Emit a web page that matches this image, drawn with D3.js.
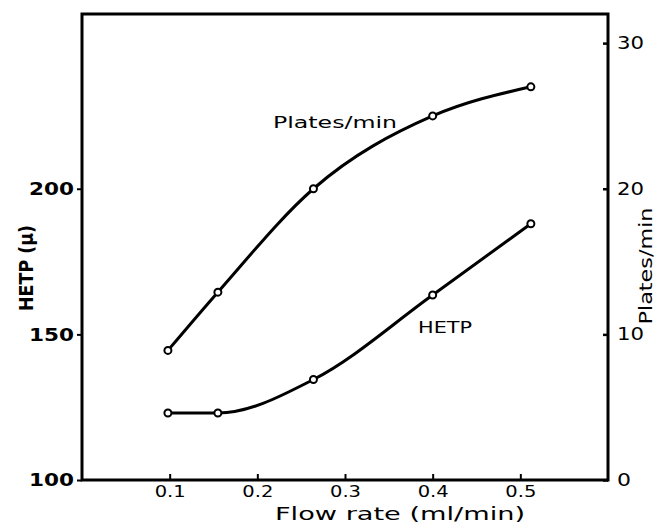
<!DOCTYPE html>
<html>
<head>
<meta charset="utf-8">
<script src="https://cdn.jsdelivr.net/npm/d3@7"></script>
<style>
  body { margin: 0; background: #fff; }
  svg { display: block; font-family: "DejaVu Sans", sans-serif; }
</style>
</head>
<body>
<svg id="chart"></svg>
<script>
// flow rate (ml/min) for both series
const flow_rate = [0.098, 0.155, 0.264, 0.400, 0.512];
// HETP in microns, left axis
const hetp = [123, 123, 134.5, 163.5, 188];
// plates per minute, right axis
const plates = [8.9, 12.9, 20.0, 25.0, 27.0];

const x_ticks = [0.1, 0.2, 0.3, 0.4, 0.5];
const x_tick_labels = ["0.1", "0.2", "0.3", "0.4", "0.5"];
const hetp_ticks = [100, 150, 200];
const plates_ticks = [0, 10, 20, 30];

function draw_chart() {
    let width = 658;
    let height = 523;

    const svg = d3.select("#chart")
        .attr("width", width)
        .attr("height", height);

    let x = d3.scaleLinear().domain([0, 0.6]).range([82, 608]);
    let y_left = d3.scaleLinear().domain([100, 260]).range([480, 14]);
    let y_right = d3.scaleLinear().domain([0, 32]).range([480, 14]);

    // frame
    svg.append("rect")
        .attr("x", x(0))
        .attr("y", y_left(260))
        .attr("width", x(0.6) - x(0))
        .attr("height", y_left(100) - y_left(260))
        .attr("fill", "none")
        .attr("stroke", "#000")
        .attr("stroke-width", 3);

    // bottom axis, ticks point inward
    const x_axis = svg.append("g")
        .attr("transform", `translate(0,${y_left(100)})`)
        .call(d3.axisBottom(x)
            .tickValues(x_ticks)
            .tickFormat((d, i) => x_tick_labels[i])
            .tickSizeInner(-6)
            .tickSizeOuter(0)
            .tickPadding(6));
    x_axis.select(".domain").remove();
    x_axis.selectAll("line").attr("stroke", "#000").attr("stroke-width", 2);
    x_axis.selectAll("text")
        .attr("font-size", 15)
        .attr("font-family", "DejaVu Sans")
        .attr("textLength", 31)
        .attr("lengthAdjust", "spacingAndGlyphs")
        .attr("fill", "#000");

    // left axis
    const left_axis = svg.append("g")
        .attr("transform", `translate(${x(0)},0)`)
        .call(d3.axisLeft(y_left)
            .tickValues(hetp_ticks)
            .tickSizeInner(5)
            .tickSizeOuter(0)
            .tickPadding(3));
    left_axis.select(".domain").remove();
    left_axis.selectAll("line").attr("stroke", "#000").attr("stroke-width", 2);
    left_axis.selectAll("text")
        .attr("font-size", 18)
        .attr("font-weight", "bold")
        .attr("font-family", "DejaVu Sans")
        .attr("textLength", 45)
        .attr("lengthAdjust", "spacingAndGlyphs")
        .attr("fill", "#000");

    // right axis, small marks inside
    const right_axis = svg.append("g")
        .attr("transform", `translate(${x(0.6)},0)`)
        .call(d3.axisRight(y_right)
            .tickValues(plates_ticks)
            .tickSizeInner(-5)
            .tickSizeOuter(0)
            .tickPadding(9));
    right_axis.select(".domain").remove();
    right_axis.selectAll("line").attr("stroke", "#000").attr("stroke-width", 2.5);
    right_axis.selectAll("text")
        .attr("font-size", 17)
        .attr("font-family", "DejaVu Sans")
        .attr("textLength", d => d < 10 ? 14 : 27)
        .attr("lengthAdjust", "spacingAndGlyphs")
        .attr("fill", "#000");

    // axis titles
    svg.append("text")
        .attr("x", 400)
        .attr("y", 520)
        .attr("text-anchor", "middle")
        .attr("font-size", 18)
        .attr("textLength", 250)
        .attr("lengthAdjust", "spacingAndGlyphs")
        .text("Flow rate (ml/min)");

    svg.append("text")
        .attr("transform", "translate(33,268) rotate(-90)")
        .attr("text-anchor", "middle")
        .attr("font-size", 20)
        .attr("font-weight", "bold")
        .attr("textLength", 86)
        .attr("lengthAdjust", "spacingAndGlyphs")
        .text("HETP (µ)");

    svg.append("text")
        .attr("transform", "translate(652,266) rotate(-90)")
        .attr("text-anchor", "middle")
        .attr("font-size", 17)
        .attr("textLength", 117)
        .attr("lengthAdjust", "spacingAndGlyphs")
        .text("Plates/min");

    // curves
    let hetp_rows = flow_rate.map((f, i) => ({f: f, v: hetp[i]}));
    let plate_rows = flow_rate.map((f, i) => ({f: f, v: plates[i]}));

    const hetp_line = d3.line()
        .x(d => x(d.f))
        .y(d => y_left(d.v))
        .curve(d3.curveMonotoneX);
    const plate_line = d3.line()
        .x(d => x(d.f))
        .y(d => y_right(d.v))
        .curve(d3.curveMonotoneX);

    svg.append("path")
        .datum(hetp_rows)
        .attr("d", hetp_line)
        .attr("fill", "none")
        .attr("stroke", "#000")
        .attr("stroke-width", 3);

    svg.append("path")
        .datum(plate_rows)
        .attr("d", plate_line)
        .attr("fill", "none")
        .attr("stroke", "#000")
        .attr("stroke-width", 3);

    svg.append("g")
        .selectAll("circle")
        .data(hetp_rows)
        .join("circle")
        .attr("cx", d => x(d.f))
        .attr("cy", d => y_left(d.v))
        .attr("r", 3.5)
        .attr("fill", "#fff")
        .attr("stroke", "#000")
        .attr("stroke-width", 2);

    svg.append("g")
        .selectAll("circle")
        .data(plate_rows)
        .join("circle")
        .attr("cx", d => x(d.f))
        .attr("cy", d => y_right(d.v))
        .attr("r", 3.5)
        .attr("fill", "#fff")
        .attr("stroke", "#000")
        .attr("stroke-width", 2);

    // in-plot labels
    svg.append("text")
        .attr("x", 273)
        .attr("y", 128)
        .attr("font-size", 16)
        .attr("textLength", 124)
        .attr("lengthAdjust", "spacingAndGlyphs")
        .text("Plates/min");

    svg.append("text")
        .attr("x", 418)
        .attr("y", 333)
        .attr("font-size", 16)
        .attr("textLength", 54)
        .attr("lengthAdjust", "spacingAndGlyphs")
        .text("HETP");
}

draw_chart();
</script>
</body>
</html>
